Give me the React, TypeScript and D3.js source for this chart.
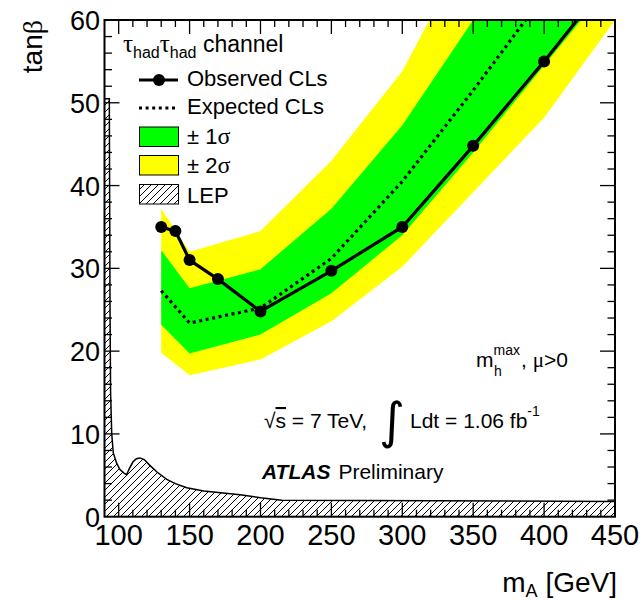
import React, { useEffect, useRef } from 'react';
import * as d3 from 'd3';

// observed limit
const obsMass = [130, 140, 150, 170, 200, 250, 300, 350, 400, 450];
const obsTanb = [35, 34.5, 31, 28.7, 24.8, 29.7, 35, 44.8, 55, 65.7];

// expected limit and bands
const bandMass = [130, 150, 200, 250, 300, 350, 400, 450];
const expTanb = [27.3, 23.4, 25.2, 31.2, 40.5, 51.5, 63, 75];
const plus1 = [32.2, 27.6, 29.9, 37.2, 47.3, 60, 73, 86];
const minus1 = [23.2, 19.7, 22.0, 27.0, 34.0, 44.0, 54.5, 65];
const plus2 = [37.2, 32.0, 34.5, 43.0, 53.8, 70, 85, 100];
const minus2 = [19.8, 17.1, 19.0, 23.6, 30.2, 39.2, 48.2, 60];

// LEP excluded region
const lepMass = [90, 93.4, 93.6, 93.9, 94.3, 95.1, 96.2, 98.5, 100.9, 103.5, 105.6, 107.5, 110, 112.5, 115, 118, 122, 127, 133.9, 140, 148, 160, 185.6, 200, 215, 450];
const lepTanb = [50.5, 50.5, 40, 25, 15, 10, 7.7, 6.5, 5.7, 5.3, 5.07, 5.8, 6.6, 7.0, 7.1, 6.9, 6.2, 5.4, 4.5, 4.0, 3.5, 3.1, 2.66, 2.3, 2.0, 1.85];

const xTicks = [100, 150, 200, 250, 300, 350, 400, 450];
const yTicks = [0, 10, 20, 30, 40, 50, 60];

const FONT = '"Liberation Sans", Arial, Helvetica, sans-serif';
const SERIF = '"Liberation Serif", "Times New Roman", serif';

export default function App() {
  const ref = useRef<SVGSVGElement>(null);

  useEffect(() => {
    const svg = d3.select(ref.current);
    svg.selectAll('*').remove();
    const x = d3.scaleLinear().domain([90, 450]).range([104.5, 615]);
    const y = d3.scaleLinear().domain([0, 60]).range([516.7, 20]);
    const [x0, x1] = x.range();
    const [y0, y1] = y.range();

    const defs = svg.append('defs');
    defs.append('clipPath').attr('id', 'plot')
      .append('rect').attr('x', x0).attr('y', y1).attr('width', x1 - x0).attr('height', y0 - y1);
    const pat = defs.append('pattern').attr('id', 'hatch')
      .attr('patternUnits', 'userSpaceOnUse').attr('width', 7).attr('height', 7);
    pat.append('path').attr('d', 'M-1,1 L1,-1 M0,7 L7,0 M6,8 L8,6')
      .attr('stroke', 'black').attr('stroke-width', 1);

    const g = svg.append('g').attr('clip-path', 'url(#plot)');

    const band = (lo: number[], hi: number[]) => d3.area<number>()
      .x((d, i) => x(bandMass[i]))
      .y0((d, i) => y(lo[i]))
      .y1((d, i) => y(hi[i]))(bandMass);

    g.append('path').attr('d', band(minus2, plus2)).attr('fill', '#ffff00');
    g.append('path').attr('d', band(minus1, plus1)).attr('fill', '#00ff00');

    // LEP
    const lepPts: [number, number][] = lepMass.map((m, i) => [x(m), y(lepTanb[i])]);
    const lepPoly = [...lepPts, [x(450), y(0)], [x(90), y(0)]] as [number, number][];
    g.append('path').attr('d', 'M' + lepPoly.map(p => p.join(',')).join('L') + 'Z')
      .attr('fill', 'url(#hatch)').attr('stroke', 'none');
    g.append('path').attr('d', d3.line()(lepPts))
      .attr('fill', 'none').attr('stroke', 'black').attr('stroke-width', 1.5);

    // expected
    g.append('path')
      .attr('d', d3.line<number>().x((d, i) => x(bandMass[i])).y(d => y(d))(expTanb))
      .attr('fill', 'none').attr('stroke', 'black').attr('stroke-width', 3.2)
      .attr('stroke-dasharray', '3,3.6');

    // observed
    g.append('path')
      .attr('d', d3.line<number>().x((d, i) => x(obsMass[i])).y(d => y(d))(obsTanb))
      .attr('fill', 'none').attr('stroke', 'black').attr('stroke-width', 3.2);
    g.selectAll('circle.obs').data(obsTanb).enter().append('circle')
      .attr('cx', (d, i) => x(obsMass[i])).attr('cy', d => y(d)).attr('r', 6).attr('fill', 'black');

    // frame and ticks
    const ax = svg.append('g').attr('stroke', 'black');
    ax.append('rect').attr('x', x0).attr('y', y1).attr('width', x1 - x0).attr('height', y0 - y1)
      .attr('fill', 'none').attr('stroke-width', 2);
    d3.range(100, 450, 10).forEach(v => {
      const len = v % 50 === 0 ? 14 : 7;
      ax.append('line').attr('x1', x(v)).attr('x2', x(v)).attr('y1', y0).attr('y2', y0 - len).attr('stroke-width', 1.3);
      ax.append('line').attr('x1', x(v)).attr('x2', x(v)).attr('y1', y1).attr('y2', y1 + len).attr('stroke-width', 1.3);
    });
    d3.range(2, 60, 2).forEach(v => {
      const len = v % 10 === 0 ? 15 : 7.5;
      ax.append('line').attr('y1', y(v)).attr('y2', y(v)).attr('x1', x0).attr('x2', x0 + len).attr('stroke-width', 1.3);
      ax.append('line').attr('y1', y(v)).attr('y2', y(v)).attr('x1', x1).attr('x2', x1 - len).attr('stroke-width', 1.3);
    });

    const txt = svg.append('g').attr('font-family', FONT).attr('fill', 'black');
    txt.selectAll('text.xl').data(xTicks).enter().append('text')
      .attr('x', d => x(d)).attr('y', 545).attr('text-anchor', 'middle').attr('font-size', 29)
      .text(d => d);
    txt.selectAll('text.yl').data(yTicks).enter().append('text')
      .attr('x', 100).attr('y', d => y(d) + 10).attr('text-anchor', 'end').attr('font-size', 27)
      .text(d => d);

    // axis titles
    const yt = txt.append('text').attr('transform', 'translate(42,20) rotate(-90)')
      .attr('text-anchor', 'end').attr('font-size', 28);
    yt.append('tspan').text('tan');
    yt.append('tspan').attr('font-family', SERIF).text('β');
    const xt = txt.append('text').attr('x', 617).attr('y', 592).attr('text-anchor', 'end').attr('font-size', 28);
    xt.append('tspan').text('m');
    xt.append('tspan').attr('font-size', 18).attr('dy', 5).text('A');
    xt.append('tspan').attr('dy', -5).text(' [GeV]');

    // legend
    const lf = 22;
    const h = txt.append('text').attr('x', 123).attr('y', 52).attr('font-size', 23);
    h.append('tspan').attr('font-family', SERIF).attr('font-size', 25).text('τ');
    h.append('tspan').attr('font-size', 16).attr('dy', 6).text('had');
    h.append('tspan').attr('font-family', SERIF).attr('font-size', 25).attr('dy', -6).text('τ');
    h.append('tspan').attr('font-size', 16).attr('dy', 6).text('had');
    h.append('tspan').attr('dy', -6).text(' channel');

    const lg = svg.append('g');
    lg.append('line').attr('x1', 139).attr('x2', 178).attr('y1', 80).attr('y2', 80)
      .attr('stroke', 'black').attr('stroke-width', 3.2);
    lg.append('circle').attr('cx', 159).attr('cy', 80).attr('r', 6).attr('fill', 'black');
    lg.append('line').attr('x1', 139).attr('x2', 178).attr('y1', 108).attr('y2', 108)
      .attr('stroke', 'black').attr('stroke-width', 3.2).attr('stroke-dasharray', '3,3.6');
    const boxes = [['#00ff00', 127], ['#ffff00', 155.5], ['url(#hatch)', 184.5]] as [string, number][];
    boxes.forEach(([f, by]) => {
      lg.append('rect').attr('x', 139.5).attr('y', by).attr('width', 39).attr('height', 19.5)
        .attr('fill', f).attr('stroke', 'black').attr('stroke-width', 1);
    });
    txt.append('text').attr('x', 187).attr('y', 86).attr('font-size', lf).text('Observed CLs');
    txt.append('text').attr('x', 187).attr('y', 114).attr('font-size', lf).text('Expected CLs');
    const s1 = txt.append('text').attr('x', 187).attr('y', 144).attr('font-size', lf);
    s1.append('tspan').text('± 1');
    s1.append('tspan').attr('font-family', SERIF).attr('font-size', 24).text('σ');
    const s2 = txt.append('text').attr('x', 187).attr('y', 173).attr('font-size', lf);
    s2.append('tspan').text('± 2');
    s2.append('tspan').attr('font-family', SERIF).attr('font-size', 24).text('σ');
    txt.append('text').attr('x', 187).attr('y', 203).attr('font-size', lf).text('LEP');

    // annotations
    const mh = txt.append('text').attr('x', 476).attr('y', 367).attr('font-size', 21);
    mh.append('tspan').text('m');
    mh.append('tspan').attr('font-size', 14).attr('dy', -12).attr('dx', 0).text('max');
    mh.append('tspan').attr('font-size', 14).attr('x', 494).attr('dy', 21).text('h');
    mh.append('tspan').attr('x', 521).attr('dy', -9).text(', ');
    mh.append('tspan').attr('font-family', SERIF).text('μ');
    mh.append('tspan').text('>0');

    const lum = txt.append('text').attr('x', 264).attr('y', 428).attr('font-size', 21);
    lum.append('tspan').text('√');
    lum.append('tspan').attr('text-decoration', 'overline').text('s');
    lum.append('tspan').text(' = 7 TeV,');
    txt.append('text').attr('x', 379).attr('y', 438).attr('font-size', 50)
      .attr('font-family', '"DejaVu Sans", sans-serif').text('∫');
    const ldt = txt.append('text').attr('x', 410).attr('y', 428).attr('font-size', 21);
    ldt.append('tspan').text('Ldt = 1.06 fb');
    ldt.append('tspan').attr('font-size', 14).attr('dy', -12).text('-1');

    const atl = txt.append('text').attr('x', 262).attr('y', 479).attr('font-size', 21);
    atl.append('tspan').attr('font-weight', 'bold').attr('font-style', 'italic').text('ATLAS');
    atl.append('tspan').attr('dx', 8).text('Preliminary');
  }, []);

  return (
    <svg ref={ref} width={643} height={600}
      style={{ position: 'absolute', left: 0, top: 0, background: 'white' }} />
  );
}
